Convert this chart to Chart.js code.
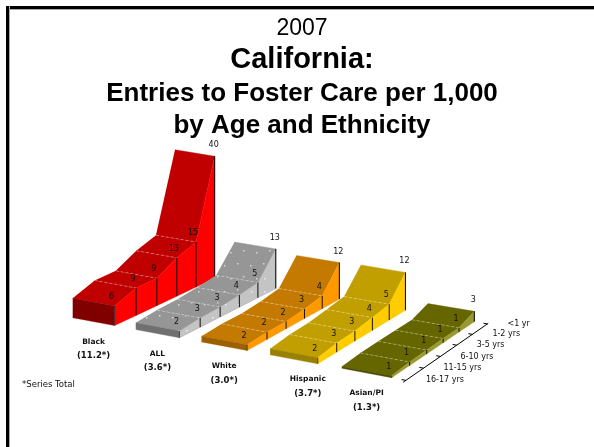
<!DOCTYPE html>
<html>
<head>
<meta charset="utf-8">
<title>California foster care entries 2007</title>
<script src="https://cdn.jsdelivr.net/npm/chart.js@4/dist/chart.umd.min.js"></script>
<style>
    body { margin: 0; background: #fff; }
    #frame-top { position: absolute; left: 6px; top: 6px; right: 0; height: 3px; background: #000; border-bottom: 1px solid #aaa; }
    #frame-left { position: absolute; left: 6px; top: 6px; bottom: 0; width: 3px; background: #000; border-right: 1px solid #aaa; }
    canvas { position: absolute; left: 0; top: 0; }
</style>
</head>
<body>
<canvas id="chart" width="594" height="447"></canvas>
<div id="frame-top"></div>
<div id="frame-left"></div>
<script>
// front to back, per 1,000
const ages = ['16-17 yrs', '11-15 yrs', '6-10 yrs', '3-5 yrs', '1-2 yrs', '<1 yr'];
const seriesNames = ['Black', 'ALL', 'White', 'Hispanic', 'Asian/PI'];
const seriesTotals = ['(11.2*)', '(3.6*)', '(3.0*)', '(3.7*)', '(1.3*)'];
const black = [6.4, 9, 9, 12.6, 14.8, 40];
const all = [2.2, 3, 3.3, 4, 5, 13];
const white = [1.9, 2.4, 2.4, 3.1, 4.2, 12];
const hispanic = [2, 3, 3.3, 4.2, 5.2, 12.4];
const asian = [0.6, 1.2, 1.3, 1.4, 1.4, 3.4];
const seriesValues = [black, all, white, hispanic, asian];

const topColors = ['#c00000', 'pattern', '#c47a00', '#c29f00', '#666600'];
const sideColors = ['#ff0000', '#c4c4c4', '#ff9900', '#ffcc00', '#999933'];
const frontColors = ['#800000', '#707070', '#9c6000', '#998000', '#4d4d00'];

// ground plane corners in the canvas, used for the perspective
const corners = [[72.7, 317.7], [391.7, 377.7], [474.3, 321.7], [175, 271.7]];
const ribbon = 0.67;
const unitHeight = 3.05;
const axisU = 1.04;

function makeHomography(c) {
    let dx1 = c[1][0] - c[2][0], dx2 = c[3][0] - c[2][0], sx = c[0][0] - c[1][0] + c[2][0] - c[3][0];
    let dy1 = c[1][1] - c[2][1], dy2 = c[3][1] - c[2][1], sy = c[0][1] - c[1][1] + c[2][1] - c[3][1];
    let det = dx1 * dy2 - dx2 * dy1;
    let g = (sx * dy2 - dx2 * sy) / det;
    let h = (dx1 * sy - sx * dy1) / det;
    return {
        a: c[1][0] - c[0][0] + g * c[1][0], b: c[3][0] - c[0][0] + h * c[3][0], c: c[0][0],
        d: c[1][1] - c[0][1] + g * c[1][1], e: c[3][1] - c[0][1] + h * c[3][1], f: c[0][1],
        g: g, h: h
    };
}
const H = makeHomography(corners);

// u: 0..1 across the ribbons, depth: age index, value: rate
function project(u, depth, value) {
    let v = depth / (ages.length - 1);
    let w = H.g * u + H.h * v + 1;
    return {
        x: (H.a * u + H.b * v + H.c) / w,
        y: (H.d * u + H.e * v + H.f) / w - (value || 0) * unitHeight
    };
}
function ribbonLeft(i) { return i / (seriesNames.length - 1 + ribbon); }
function ribbonRight(i) { return (i + ribbon) / (seriesNames.length - 1 + ribbon); }

function speckle() {
    let c = document.createElement('canvas');
    c.width = 26; c.height = 26;
    let x = c.getContext('2d');
    x.fillStyle = '#969696';
    x.fillRect(0, 0, 26, 26);
    x.fillStyle = '#d8d8d8';
    [[3, 3], [16, 5], [9, 16], [22, 18]].forEach(p => x.fillRect(p[0], p[1], 1.5, 1.5));
    return document.getElementById('chart').getContext('2d').createPattern(c, 'repeat');
}
function speckleLight() {
    let c = document.createElement('canvas');
    c.width = 13; c.height = 13;
    let x = c.getContext('2d');
    x.fillStyle = '#c4c4c4';
    x.fillRect(0, 0, 13, 13);
    x.fillStyle = '#ececec';
    x.fillRect(4, 5, 1.5, 1.5);
    return document.getElementById('chart').getContext('2d').createPattern(c, 'repeat');
}

function shape(points, color) {
    return { data: points, showLine: true, fill: 'shape', pointRadius: 0, tension: 0,
        backgroundColor: color, borderColor: typeof color == 'string' ? color : '#969696', borderWidth: 0.4 };
}
function stroke(points, color, width, dash) {
    return { data: points, showLine: true, fill: false, pointRadius: 0, tension: 0,
        borderColor: color, borderWidth: width, borderDash: dash || [] };
}

let datasets = [];
seriesValues.forEach((values, i) => {
    let l = ribbonLeft(i), r = ribbonRight(i);
    let topColor = topColors[i] == 'pattern' ? speckle() : topColors[i];
    let sideColor = i == 1 ? speckleLight() : sideColors[i];
    for (let j = 0; j < values.length - 1; j++) {
        datasets.push(shape([project(l, j, values[j]), project(r, j, values[j]),
            project(r, j + 1, values[j + 1]), project(l, j + 1, values[j + 1])], topColor));
    }
    for (let j = values.length - 2; j >= 0; j--) {
        datasets.push(shape([project(r, j, 0), project(r, j + 1, 0),
            project(r, j + 1, values[j + 1]), project(r, j, values[j])], sideColor));
    }
    datasets.push(shape([project(l, 0, 0), project(r, 0, 0), project(r, 0, values[0]), project(l, 0, values[0])], frontColors[i]));
    // light lines across the top at each age, black ones down the side
    for (let j = 1; j < values.length - 1; j++) {
        datasets.push(stroke([project(l, j, values[j]), project(r, j, values[j])], 'rgba(255,255,255,0.45)', 0.8, [3, 2]));
    }
    for (let j = 1; j < values.length; j++) {
        datasets.push(stroke([project(r, j, 0), project(r, j, values[j])], '#000', j == values.length - 1 ? 1 : 0.9));
    }
    datasets.push(stroke([project(r, 0, 0), project(r, 0, values[0])], '#333', 0.8));
});

// age axis on the right hand side
datasets.push(stroke([project(axisU, -0.15), project(axisU, 5.05)], '#000', 1));
ages.forEach((a, j) => {
    datasets.push(stroke([project(axisU - 0.012, j), project(axisU, j)], '#000', 1));
});

const textPlugin = {
    id: 'texts',
    afterDraw(chart) {
        let ctx = chart.ctx, xs = chart.scales.x, ys = chart.scales.y;
        function put(text, p, font, align, color) {
            ctx.font = font;
            ctx.textAlign = align || 'center';
            ctx.textBaseline = 'middle';
            ctx.fillStyle = color || '#111';
            ctx.fillText(text, xs.getPixelForValue(p.x), ys.getPixelForValue(p.y));
        }
        ctx.save();
        // titles
        const titleFont = 'Liberation Sans, Arial, sans-serif';
        [['2007', 35, '23px ' + titleFont], ['California:', 68, 'bold 29px ' + titleFont],
         ['Entries to Foster Care per 1,000', 101, 'bold 26px ' + titleFont],
         ['by Age and Ethnicity', 133, 'bold 26px ' + titleFont]].forEach(t => {
            ctx.font = t[2];
            ctx.textAlign = 'center';
            ctx.textBaseline = 'alphabetic';
            ctx.fillStyle = '#000';
            ctx.fillText(t[0], 302, t[1]);
        });
        const smallFont = '8px "DejaVu Sans", sans-serif';
        const boldFont = 'bold 7.5px "DejaVu Sans", sans-serif';
        seriesValues.forEach((values, i) => {
            let r = ribbonRight(i), l = ribbonLeft(i);
            values.forEach((v, j) => {
                let p = project(r, j, v);
                let last = j == values.length - 1;
                put(String(Math.round(v)), { x: p.x + (last ? -1 : -3), y: p.y + (last ? -11 : -9) }, smallFont);
            });
            let c = project((l + r) / 2, 0, 0);
            let nudge = i == 3 ? 14 : 0;
            put(seriesNames[i], { x: c.x + nudge, y: c.y + 20 }, boldFont);
            put(seriesTotals[i], { x: c.x + nudge, y: c.y + 34.5 }, 'bold 8.5px "DejaVu Sans", sans-serif');
        });
        ages.forEach((a, j) => {
            let p = project(axisU, j, 0);
            put(a, { x: p.x + 20, y: p.y }, '8px "DejaVu Sans", sans-serif', 'left');
        });
        put('*Series Total', { x: 22, y: 384.5 }, '8.5px "DejaVu Sans", sans-serif', 'left');
        ctx.restore();
    }
};

// later datasets must paint over earlier ones
datasets.forEach((d, k) => { d.order = datasets.length - k; });

new Chart(document.getElementById('chart'), {
    type: 'scatter',
    data: { datasets: datasets },
    options: {
        responsive: false,
        animation: false,
        layout: { padding: 0 },
        plugins: { legend: { display: false }, title: { display: false }, tooltip: { enabled: false } },
        scales: {
            x: { type: 'linear', min: 0, max: 594, display: false },
            y: { type: 'linear', min: 0, max: 447, reverse: true, display: false }
        }
    },
    plugins: [textPlugin]
});
</script>
</body>
</html>
